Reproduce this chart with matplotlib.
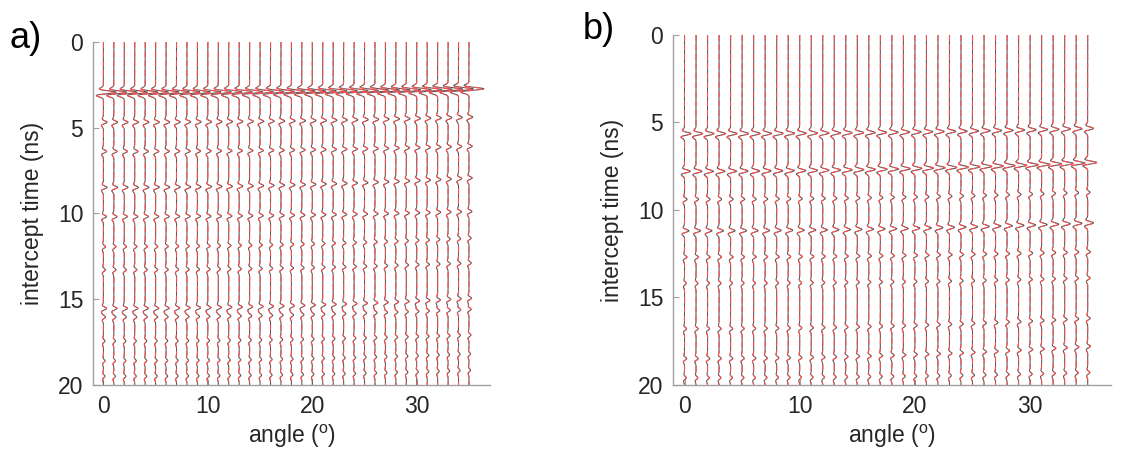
import numpy as np
import matplotlib.pyplot as plt

plt.rcParams['font.family'] = ['Liberation Sans', 'DejaVu Sans']
plt.rcParams['mathtext.fontset'] = 'custom'
plt.rcParams['mathtext.rm'] = 'Liberation Sans'

# -----------------------------
# data
# -----------------------------
angles = np.arange(0, 36)           # one trace per degree
t = np.arange(0, 20.001, 0.01)      # intercept time axis (ns)

# panel a) events: time at 0 deg, time at 35 deg, amplitude (black), amplitude (red)
a_t0 = [2.95, 4.70, 6.40, 8.50, 10.20, 11.95, 13.30, 15.55, 16.05, 17.45, 18.60, 19.50]
a_t35 = [2.75, 4.40, 6.10, 7.95, 9.90, 11.45, 12.90, 14.95, 15.60, 17.10, 18.20, 19.15]
a_amp = [1.20, 0.35, 0.30, 0.35, 0.30, 0.20, 0.20, 0.30, 0.20, 0.15, 0.15, 0.15]
a_amp_red = [1.15, 0.33, 0.30, 0.32, 0.28, 0.20, 0.18, 0.28, 0.20, 0.15, 0.14, 0.15]
a_amp35 = [1.40, 0.35, 0.30, 0.30, 0.28, 0.20, 0.22, 0.25, 0.20, 0.18, 0.15, 0.15]

# panel b) events
b_t0 = [5.65, 7.80, 9.40, 11.20, 12.70, 14.20, 16.80, 18.50, 19.60]
b_t35 = [5.35, 7.30, 9.00, 10.75, 12.40, 13.90, 16.20, 17.80, 19.30]
b_amp = [0.55, 0.50, 0.22, 0.38, 0.20, 0.16, 0.18, 0.18, 0.15]
b_amp_red = [0.53, 0.52, 0.20, 0.36, 0.22, 0.15, 0.16, 0.20, 0.15]
b_amp35 = [0.50, 0.75, 0.20, 0.50, 0.22, 0.20, 0.22, 0.22, 0.18]

xticks = [0, 10, 20, 30]
yticks = [0, 5, 10, 15, 20]


def wavelet(tt, f=2.0):
    # ricker with a bit of odd part -> zigzag look
    a = (np.pi * f * tt) ** 2
    r = (1 - 2 * a) * np.exp(-a)
    d = -tt * f * 2.3 * np.exp(-a)
    return r + 0.6 * d


def trace(ang, t0, t35, amp0, amp35):
    w = (ang / 35.0) ** 2
    s = np.zeros_like(t)
    for i in range(len(t0)):
        tc = t0[i] + (t35[i] - t0[i]) * w
        am = amp0[i] + (amp35[i] - amp0[i]) * w
        s += am * wavelet(t - tc)
    return s


def panel(ax, t0, t35, amp, amp_red, amp35):
    for ang in angles:
        sb = trace(ang, t0, t35, amp, amp35)
        sr = trace(ang, t0, t35, amp_red, [x * r / b for x, r, b in zip(amp35, amp_red, amp)])
        ax.plot(ang + sb, t, color='#555555', lw=0.75)
        ax.plot(ang + sr, t, color='#ff4d4d', lw=0.75, ls=(0, (6, 3)))
    ax.set_xlim(-1, 37)
    ax.set_ylim(20, 0)
    ax.set_xticks(xticks)
    ax.set_yticks(yticks)
    for s in ['top', 'right']:
        ax.spines[s].set_visible(False)
    for s in ['left', 'bottom']:
        ax.spines[s].set_color('#a0a0a0')
        ax.spines[s].set_linewidth(1.0)
    ax.tick_params(direction='in', length=4, color='#a0a0a0', labelcolor='#262626',
                   labelsize=16.5, pad=7)
    ax.set_xlabel(r'angle ($^{\mathrm{o}}$)', fontsize=16.5, color='#262626', labelpad=4)
    ax.set_ylabel('intercept time (ns)', fontsize=16.5, color='#262626', labelpad=10)


fig = plt.figure(figsize=(11.34, 4.54), dpi=100)
ax1 = fig.add_axes([0.082, 0.152, 0.350, 0.756])
ax2 = fig.add_axes([0.5935, 0.152, 0.386, 0.771])

panel(ax1, a_t0, a_t35, a_amp, a_amp_red, a_amp35)
panel(ax2, b_t0, b_t35, b_amp, b_amp_red, b_amp35)

fig.text(0.008, 0.895, 'a)', fontsize=26, color='black')
fig.text(0.514, 0.915, 'b)', fontsize=26, color='black')

fig.savefig('out.png', dpi=100)
